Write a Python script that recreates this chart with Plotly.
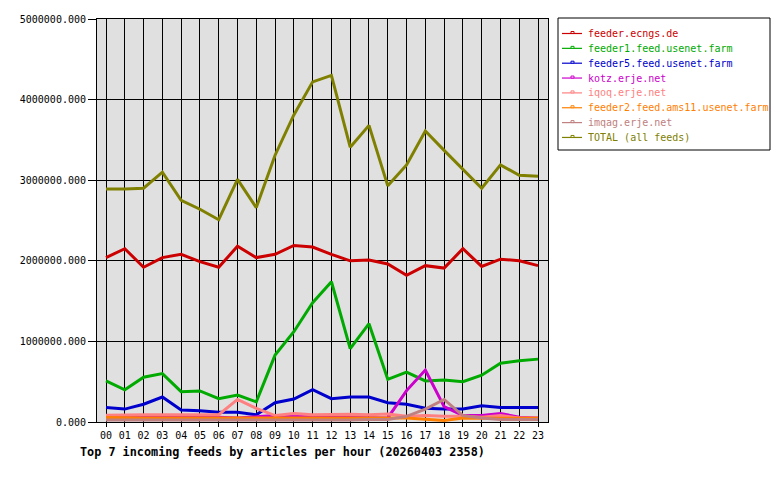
import plotly.graph_objects as go

hours = [f"{h:02d}" for h in range(24)]

feeder_ecngs = [2.04e6, 2.15e6, 1.92e6, 2.04e6, 2.08e6, 1.99e6, 1.92e6, 2.18e6, 2.04e6, 2.08e6, 2.19e6, 2.17e6,
                2.08e6, 2.00e6, 2.01e6, 1.96e6, 1.82e6, 1.94e6, 1.91e6, 2.15e6, 1.93e6, 2.02e6, 2.00e6, 1.94e6]
feeder1 = [0.51e6, 0.40e6, 0.555e6, 0.60e6, 0.376e6, 0.385e6, 0.29e6, 0.335e6, 0.25e6, 0.83e6, 1.12e6, 1.48e6,
           1.74e6, 0.91e6, 1.22e6, 0.53e6, 0.62e6, 0.51e6, 0.52e6, 0.50e6, 0.58e6, 0.73e6, 0.76e6, 0.78e6]
feeder5 = [0.18e6, 0.16e6, 0.22e6, 0.31e6, 0.15e6, 0.14e6, 0.12e6, 0.12e6, 0.09e6, 0.24e6, 0.285e6, 0.40e6,
           0.29e6, 0.31e6, 0.31e6, 0.24e6, 0.22e6, 0.17e6, 0.16e6, 0.16e6, 0.20e6, 0.18e6, 0.18e6, 0.18e6]
kotz = [0.055e6, 0.055e6, 0.06e6, 0.065e6, 0.06e6, 0.06e6, 0.06e6, 0.05e6, 0.065e6, 0.08e6, 0.07e6, 0.06e6,
        0.055e6, 0.055e6, 0.055e6, 0.05e6, 0.39e6, 0.645e6, 0.19e6, 0.08e6, 0.08e6, 0.105e6, 0.06e6, 0.05e6]
iqoq = [0.085e6, 0.09e6, 0.09e6, 0.09e6, 0.09e6, 0.085e6, 0.09e6, 0.28e6, 0.17e6, 0.08e6, 0.105e6, 0.09e6,
        0.095e6, 0.095e6, 0.09e6, 0.10e6, 0.07e6, 0.08e6, 0.07e6, 0.07e6, 0.06e6, 0.08e6, 0.05e6, 0.05e6]
feeder2 = [0.055e6, 0.05e6, 0.05e6, 0.05e6, 0.05e6, 0.05e6, 0.05e6, 0.05e6, 0.05e6, 0.05e6, 0.05e6, 0.05e6,
           0.05e6, 0.05e6, 0.05e6, 0.05e6, 0.05e6, 0.035e6, 0.02e6, 0.05e6, 0.045e6, 0.045e6, 0.045e6, 0.045e6]
imqag = [0.025e6, 0.025e6, 0.025e6, 0.025e6, 0.02e6, 0.025e6, 0.025e6, 0.025e6, 0.02e6, 0.025e6, 0.025e6, 0.025e6,
         0.025e6, 0.025e6, 0.03e6, 0.03e6, 0.07e6, 0.16e6, 0.28e6, 0.08e6, 0.05e6, 0.03e6, 0.03e6, 0.03e6]
total = [2.89e6, 2.89e6, 2.90e6, 3.10e6, 2.75e6, 2.64e6, 2.51e6, 3.01e6, 2.66e6, 3.31e6, 3.81e6, 4.22e6,
         4.30e6, 3.41e6, 3.68e6, 2.93e6, 3.19e6, 3.61e6, 3.37e6, 3.13e6, 2.90e6, 3.19e6, 3.06e6, 3.05e6]

names = ["feeder.ecngs.de", "feeder1.feed.usenet.farm", "feeder5.feed.usenet.farm", "kotz.erje.net",
         "iqoq.erje.net", "feeder2.feed.ams11.usenet.farm", "imqag.erje.net", "TOTAL (all feeds)"]
series = [feeder_ecngs, feeder1, feeder5, kotz, iqoq, feeder2, imqag, total]
colors = ["#cc0000", "#00aa00", "#0000cc", "#cc00cc", "#ff8080", "#ff8000", "#c08080", "#808000"]
y_ticks = [0, 1e6, 2e6, 3e6, 4e6, 5e6]
y_labels = ["0.000", "1000000.000", "2000000.000", "3000000.000", "4000000.000", "5000000.000"]
title = "Top 7 incoming feeds by articles per hour (20260403 2358)"

FONT = "DejaVu Sans Mono"

# plot-area geometry in pixels
L, R, T, B = 97, 548, 19, 422
W, H = 780, 480


def px(x):
    return (x - L) / (R - L)


def py(y):
    return (B - y) / (B - T)


fig = go.Figure()
for nm, ys, c in zip(names, series, colors):
    fig.add_trace(go.Scatter(x=list(range(24)), y=ys, name=nm, mode="lines",
                             line=dict(color=c, width=3), showlegend=False))

shapes = [dict(type="rect", xref="paper", yref="paper", x0=px(558), x1=px(770), y0=py(150), y1=py(18),
               line=dict(color="black", width=1), fillcolor="white")]
annotations = []
for i, (nm, c) in enumerate(zip(names, colors)):
    yc = 33.5 + i * 14.85
    shapes.append(dict(type="line", xref="paper", yref="paper", x0=px(562), x1=px(582),
                       y0=py(yc), y1=py(yc), line=dict(color=c, width=1.2)))
    shapes.append(dict(type="rect", xref="paper", yref="paper", x0=px(571), x1=px(574),
                       y0=py(yc), y1=py(yc - 2), line=dict(color=c, width=1), fillcolor="white"))
    annotations.append(dict(text=nm, x=px(586), y=py(yc), xref="paper", yref="paper",
                            xanchor="left", yanchor="middle", showarrow=False,
                            font=dict(family=FONT, size=10, color=c)))

annotations.append(dict(text="<b>" + title + "</b>", x=px(78), y=py(452), xref="paper", yref="paper",
                        xanchor="left", yanchor="middle", showarrow=False,
                        font=dict(family=FONT, size=11.8, color="black")))

fig.update_layout(
    width=W, height=H,
    margin=dict(l=L, r=W - R, t=T, b=H - B),
    paper_bgcolor="white", plot_bgcolor="#e0e0e0",
    font=dict(family=FONT, size=10, color="black"),
    showlegend=False,
    xaxis=dict(range=[-0.48, 23.53], tickvals=list(range(24)), ticktext=hours,
               showgrid=True, gridcolor="black", gridwidth=1, zeroline=False,
               showline=True, linecolor="black", linewidth=1, mirror=True,
               ticks="outside", ticklen=4, tickcolor="black", fixedrange=True),
    yaxis=dict(range=[0, 5e6], tickvals=y_ticks, ticktext=y_labels,
               showgrid=True, gridcolor="black", gridwidth=1, zeroline=False,
               showline=True, linecolor="black", linewidth=1, mirror=True,
               ticks="outside", ticklen=8, tickcolor="black", fixedrange=True),
    shapes=shapes,
    annotations=annotations,
)

fig.write_html("out.html")
